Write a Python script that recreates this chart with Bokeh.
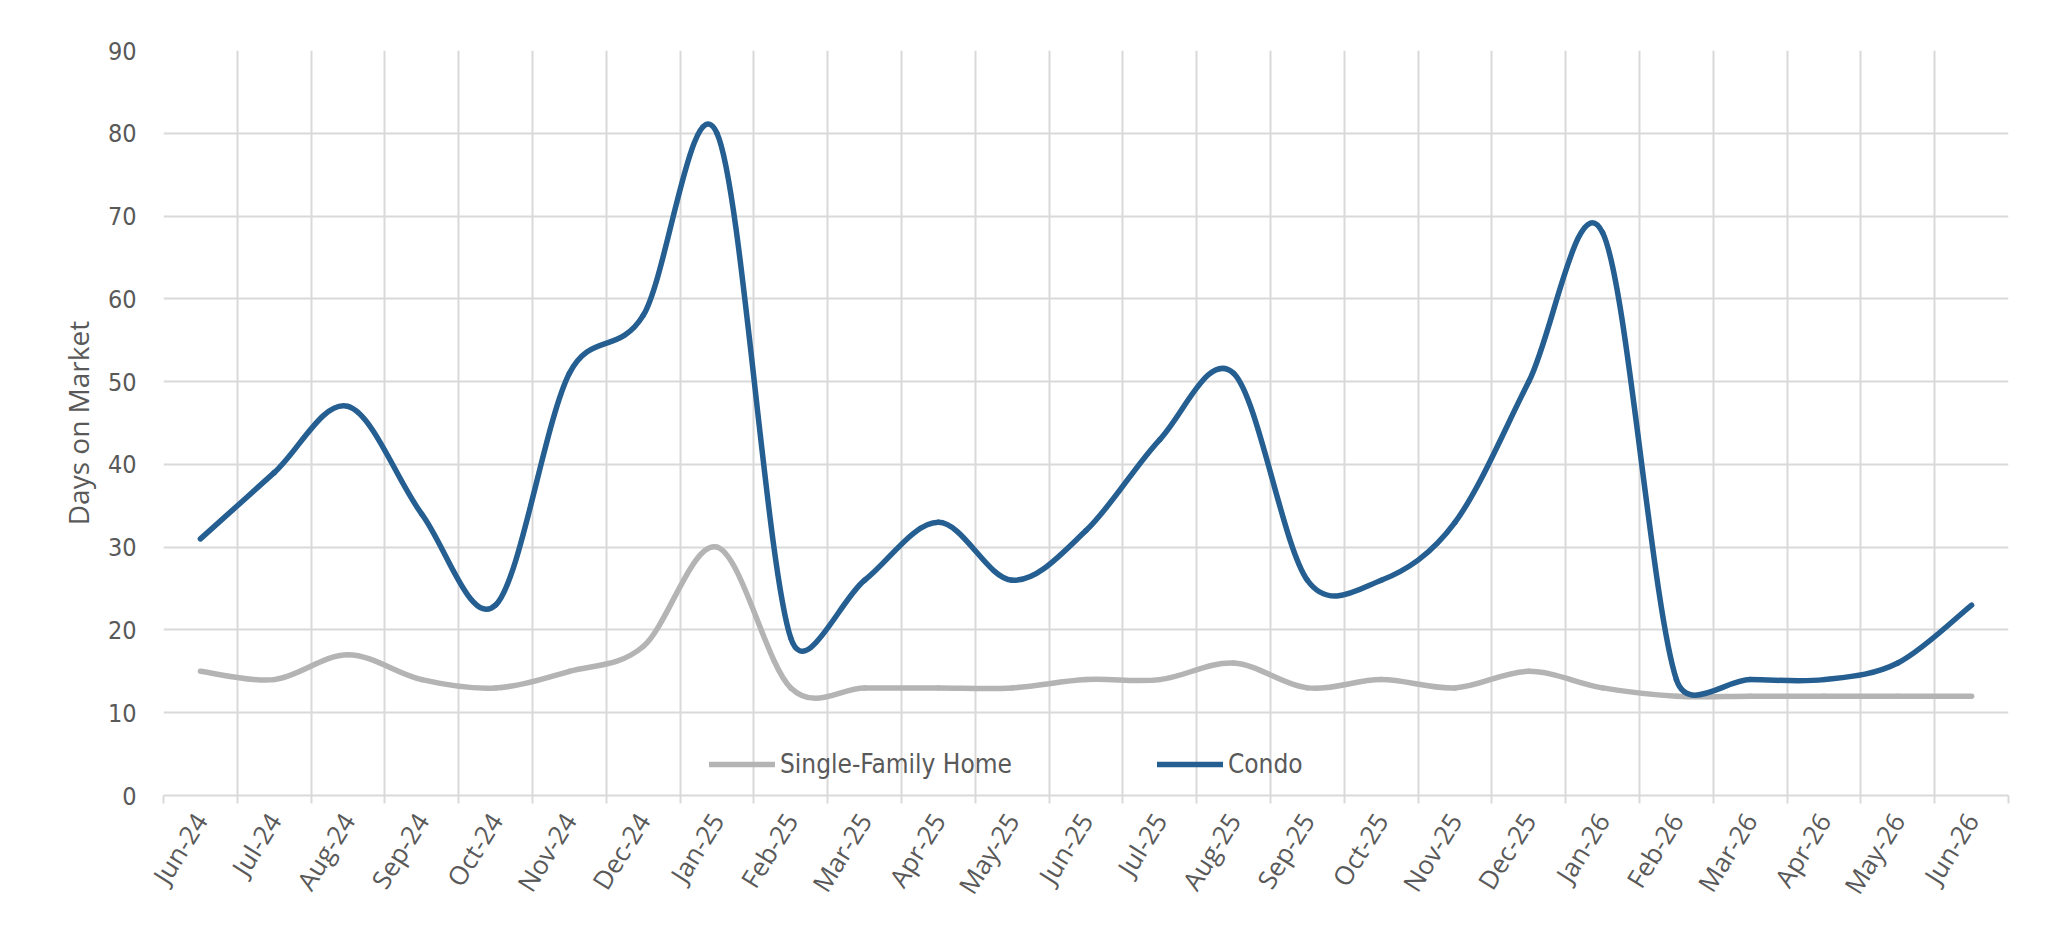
from bokeh.plotting import figure
from bokeh.models import FixedTicker, Legend, LegendItem
from bokeh.embed import file_html
from bokeh.resources import INLINE
import math

months = ["Jun-24", "Jul-24", "Aug-24", "Sep-24", "Oct-24", "Nov-24", "Dec-24",
          "Jan-25", "Feb-25", "Mar-25", "Apr-25", "May-25", "Jun-25", "Jul-25",
          "Aug-25", "Sep-25", "Oct-25", "Nov-25", "Dec-25", "Jan-26", "Feb-26",
          "Mar-26", "Apr-26", "May-26", "Jun-26"]
single_family = [15, 14, 17, 14, 13, 15, 18, 30, 13, 13, 13, 13, 14, 14, 16,
                 13, 14, 13, 15, 13, 12, 12, 12, 12, 12]
condo = [31, 39, 47, 34, 23, 51, 58, 80, 19, 26, 33, 26, 32, 43, 51, 26, 26,
         33, 50, 68, 14, 14, 14, 16, 23]
y_ticks = [0, 10, 20, 30, 40, 50, 60, 70, 80, 90]

GRID = "#d9d9d9"
TXT = "#595959"
NARROW = "Liberation Sans Narrow, DejaVu Sans Condensed, Roboto, sans-serif"

W, H = 2040, 944
BL, BR, BT, BB = 163, 32, 50, 149

p = figure(width=W, height=H, output_backend="svg", toolbar_location=None,
           x_range=(-0.5, len(months) - 0.5), y_range=(0, 90),
           min_border_left=BL, min_border_right=BR, min_border_top=BT,
           min_border_bottom=BB)
p.outline_line_color = None
p.background_fill_color = "white"

# pixel size of one data unit (used for spreadsheet-style curve smoothing)
PX_X = (W - BL - BR) / len(months)
PX_Y = (H - BT - BB) / 90.0


def bezier_source(vals):
    n = len(vals)
    pts = [(float(i), float(v)) for i, v in enumerate(vals)]

    def dist(a, b):
        return math.hypot((b[0] - a[0]) * PX_X, (b[1] - a[1]) * PX_Y)

    src = dict(x0=[], y0=[], x1=[], y1=[], cx0=[], cy0=[], cx1=[], cy1=[])
    for i in range(n - 1):
        p1, p2 = pts[i], pts[i + 1]
        p0 = pts[i - 1] if i > 0 else p1
        p3 = pts[i + 2] if i + 2 < n else p2
        d12 = dist(p1, p2)
        d02 = dist(p0, p2)
        d13 = dist(p1, p3)
        f = 1 / 6.0 if d02 / 6.0 < d12 / 2.0 else (d12 / 2.0) / d02
        g = 1 / 6.0 if d13 / 6.0 < d12 / 2.0 else (d12 / 2.0) / d13
        src["x0"].append(p1[0]); src["y0"].append(p1[1])
        src["x1"].append(p2[0]); src["y1"].append(p2[1])
        src["cx0"].append(p1[0] + f * (p2[0] - p0[0]))
        src["cy0"].append(p1[1] + f * (p2[1] - p0[1]))
        src["cx1"].append(p2[0] - g * (p3[0] - p1[0]))
        src["cy1"].append(p2[1] - g * (p3[1] - p1[1]))
    return src


sf = bezier_source(single_family)
r1 = p.bezier(x0=sf["x0"], y0=sf["y0"], x1=sf["x1"], y1=sf["y1"],
              cx0=sf["cx0"], cy0=sf["cy0"], cx1=sf["cx1"], cy1=sf["cy1"],
              line_color="#b4b4b4", line_width=5.5, line_cap="round")
cd = bezier_source(condo)
r2 = p.bezier(x0=cd["x0"], y0=cd["y0"], x1=cd["x1"], y1=cd["y1"],
              cx0=cd["cx0"], cy0=cd["cy0"], cx1=cd["cx1"], cy1=cd["cy1"],
              line_color="#255e91", line_width=5.5, line_cap="round")

centers = list(range(len(months)))
bounds = [i - 0.5 for i in range(len(months) + 1)]

p.xaxis.ticker = FixedTicker(ticks=centers, minor_ticks=bounds)
p.xaxis.major_label_overrides = {i: m for i, m in enumerate(months)}
p.xaxis.major_label_orientation = math.radians(58)
p.xaxis.major_label_text_font = "Open Sans"
p.xaxis.major_label_text_font_size = "26px"
p.xaxis.major_label_text_color = TXT
p.xaxis.major_label_standoff = 12
p.xaxis.major_tick_line_color = None
p.xaxis.minor_tick_out = 8
p.xaxis.minor_tick_in = 0
p.xaxis.minor_tick_line_color = GRID
p.xaxis.minor_tick_line_width = 2
p.xaxis.axis_line_color = GRID
p.xaxis.axis_line_width = 2

p.yaxis.ticker = FixedTicker(ticks=y_ticks)
p.yaxis.axis_line_color = None
p.yaxis.major_tick_line_color = None
p.yaxis.minor_tick_line_color = None
p.yaxis.major_label_text_font = NARROW
p.yaxis.major_label_text_font_size = "25px"
p.yaxis.major_label_text_color = TXT
p.yaxis.major_label_standoff = 21
p.yaxis.axis_label = "Days on Market"
p.yaxis.axis_label_text_font = "Open Sans"
p.yaxis.axis_label_text_font_style = "normal"
p.yaxis.axis_label_text_font_size = "28px"
p.yaxis.axis_label_text_color = TXT
p.yaxis.axis_label_standoff = 8

p.xgrid.ticker = FixedTicker(ticks=bounds)
p.xgrid.grid_line_color = GRID
p.xgrid.grid_line_width = 2
p.ygrid.ticker = FixedTicker(ticks=y_ticks)
p.ygrid.grid_line_color = GRID
p.ygrid.grid_line_width = 2

legend = Legend(items=[LegendItem(label="Single-Family Home", renderers=[r1]),
                       LegendItem(label="Condo", renderers=[r2])],
                orientation="horizontal", location=(546, 16),
                padding=0, margin=0, spacing=145,
                glyph_width=66, glyph_height=24, label_height=24,
                label_standoff=5, border_line_color=None,
                background_fill_alpha=0,
                label_text_font=NARROW, label_text_font_size="26px",
                label_text_color=TXT)
p.add_layout(legend, "center")

open("out.html", "w").write(file_html(p, INLINE))
